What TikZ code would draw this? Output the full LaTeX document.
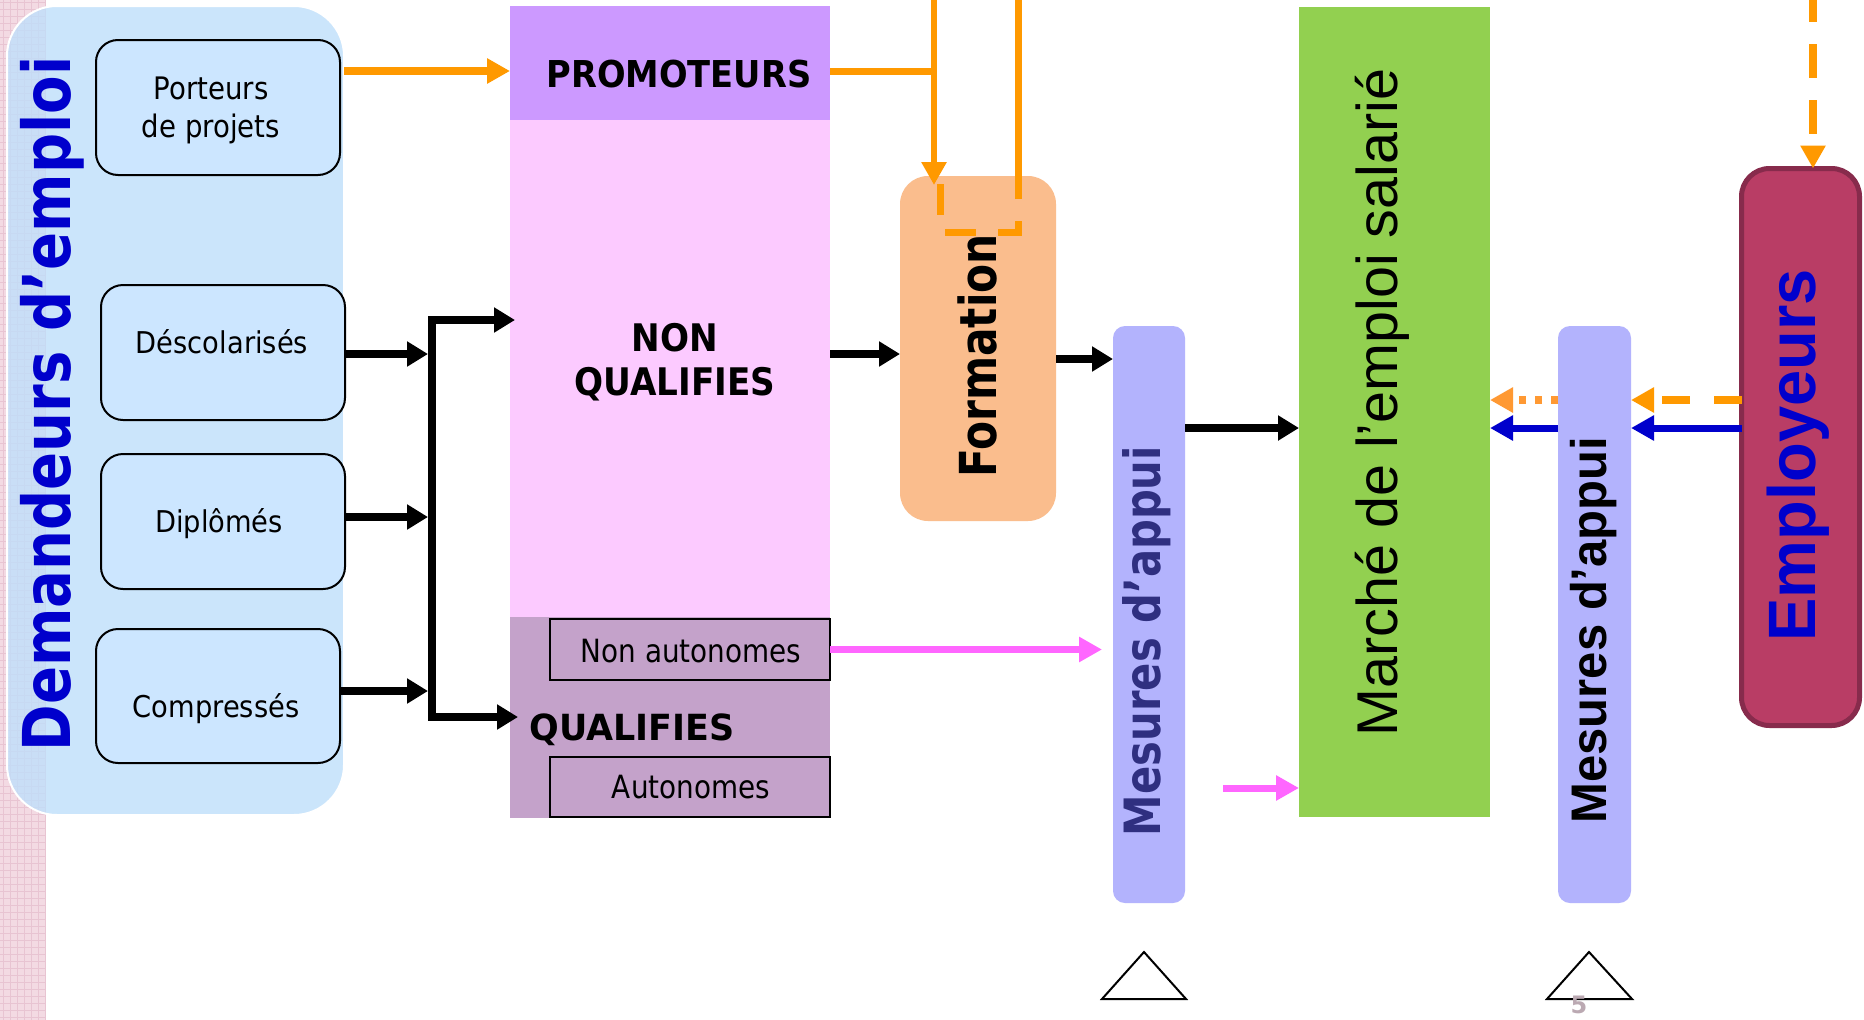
\documentclass[tikz,border=0pt]{standalone}
\usepackage{fontspec}
\usepackage{graphicx}
\setmainfont{DejaVu Sans}
\newfontfamily\lib{Liberation Sans}
\usetikzlibrary{arrows.meta,calc}
\definecolor{demblue}{HTML}{BFDFFB}
\definecolor{boxblue}{HTML}{CCE6FF}
\definecolor{strippink}{HTML}{F3DAE3}
\definecolor{stripline}{HTML}{E8C4D2}
\definecolor{promo}{HTML}{CC99FF}
\definecolor{nqpink}{HTML}{FCCAFF}
\definecolor{qualc}{HTML}{C4A2CA}
\definecolor{formc}{HTML}{FABD8D}
\definecolor{mesc}{HTML}{B3B3FD}
\definecolor{marchec}{HTML}{92D050}
\definecolor{empfill}{HTML}{B93D65}
\definecolor{empdraw}{HTML}{872B4C}
\definecolor{tblue}{HTML}{0000CC}
\definecolor{navy}{HTML}{2F2F80}
\definecolor{orng}{HTML}{FF9900}
\definecolor{lorng}{HTML}{FF9933}
\definecolor{magc}{HTML}{FF66FF}
\definecolor{pgray}{HTML}{BBA9B2}
\newcommand{\hsc}[2]{\scalebox{#1}[1]{#2}}
\begin{document}
\begin{tikzpicture}[x=1pt,y=-1pt,
  rbox/.style={draw=black, line width=2pt, rounded corners=22pt, fill=boxblue, minimum width=244pt, minimum height=135pt, inner sep=0pt, outer sep=0pt},
  flat/.style={inner sep=0pt, outer sep=0pt},
  txt/.style={inner sep=0pt, outer sep=0pt, anchor=base},
  vt/.style={inner sep=0pt, outer sep=0pt, anchor=base, rotate=90},
  blk/.style={line width=8pt, black, -{Triangle[length=21pt,width=24pt]}},
  ora/.style={line width=7pt, orng, -{Triangle[length=23pt,width=24pt]}},
  mag/.style={line width=7pt, magc, -{Triangle[length=23pt,width=24pt]}},
  blu/.style={line width=7pt, tblue, -{Triangle[length=23pt,width=24pt]}},
  tri/.style={draw=black, line width=2pt, fill=white, line join=miter}
]
\useasboundingbox (0,0) rectangle (1864,1020);
\fill[white] (0,0) rectangle (1864,1020);
% left decorative strip
\fill[strippink] (0,0) rectangle (46,1020);
\foreach \i in {2,9,...,1020} \draw[stripline, line width=0.8pt] (0,\i) -- (46,\i);
\foreach \j in {3,10,...,45} \draw[stripline, line width=0.8pt] (\j,0) -- (\j,1020);

% Demandeurs d'emploi
\node[flat, draw=white, line width=2pt, fill=demblue, fill opacity=0.8, rounded corners=50pt, minimum width=337pt, minimum height=809pt] (dem) at (175.5,410.5) {};
\node[vt, font=\bfseries\fontsize{66}{79}\selectfont, text=tblue] (demT) at (70,404) {\hsc{0.85}{Demandeurs d’emploi}};

\node[rbox] (port) at (218,107.5) {};
\node[txt, font=\fontsize{31}{38}\selectfont] (portT) at (211,99) {\hsc{0.89}{\begin{tabular}[t]{@{}c@{}}Porteurs\\de projets\end{tabular}}};
\node[rbox] (desc) at (223,352.5) {};
\node[txt, font=\fontsize{30}{36}\selectfont] (descT) at (222,353) {\hsc{0.91}{Déscolarisés}};
\node[rbox] (dipl) at (223,521.5) {};
\node[txt, font=\fontsize{30}{36}\selectfont] (diplT) at (219,532) {\hsc{0.91}{Diplômés}};
\node[rbox, minimum height=134pt] (comp) at (218,696) {};
\node[txt, font=\fontsize{30}{36}\selectfont] (compT) at (216,717.5) {\hsc{0.91}{Compressés}};

% central column
\node[flat, fill=promo, minimum width=320pt, minimum height=114pt] (promo) at (670,63) {};
\node[txt, font=\bfseries\fontsize{37}{44}\selectfont] (promoT) at (679,87.5) {\hsc{0.91}{PROMOTEURS}};
\node[flat, fill=nqpink, minimum width=320pt, minimum height=497pt] (nq) at (670,368.5) {};
\node[txt, font=\bfseries\fontsize{38}{44}\selectfont] (nqT) at (675,351) {\hsc{0.9}{\begin{tabular}[t]{@{}c@{}}NON\\QUALIFIES\end{tabular}}};
\node[flat, fill=qualc, minimum width=320pt, minimum height=201pt] (qual) at (670,717.5) {};
\node[flat, draw=black, line width=2pt, fill=qualc, minimum width=280pt, minimum height=61pt] (nonaut) at (690,649.5) {};
\node[txt, font=\fontsize{32}{38}\selectfont] (nonautT) at (691,662) {\hsc{0.87}{Non autonomes}};
\node[flat, draw=black, line width=2pt, fill=qualc, minimum width=280pt, minimum height=60pt] (aut) at (690,787) {};
\node[txt, font=\fontsize{32}{38}\selectfont] (autT) at (691,798) {\hsc{0.87}{Autonomes}};
\node[txt, font=\bfseries\fontsize{36}{44}\selectfont] (qualT) at (632,740) {\hsc{0.97}{QUALIFIES}};

% Formation
\node[flat, fill=formc, rounded corners=28pt, minimum width=156pt, minimum height=345pt] (form) at (978,348.5) {};
\node[vt, font=\bfseries\fontsize{51}{60}\selectfont] (formT) at (996,356) {\hsc{0.83}{Formation}};

% Mesures d'appui 1
\node[flat, fill=mesc, rounded corners=12pt, minimum width=72pt, minimum height=577pt] (mes1) at (1149,614.5) {};
\node[vt, font=\bfseries\fontsize{50}{60}\selectfont, text=navy] (mes1T) at (1160,641) {\hsc{0.834}{Mesures d’appui}};

% Marche
\node[flat, fill=marchec, minimum width=191pt, minimum height=810pt] (marche) at (1394.5,412) {};
\node[vt, font=\lib\fontsize{57.5}{68}\selectfont] (marcheT) at (1397,402.5) {Marché de l’emploi salarié};

% Mesures d'appui 2
\node[flat, fill=mesc, rounded corners=12pt, minimum width=73pt, minimum height=577pt] (mes2) at (1594.5,614.5) {};
\node[vt, font=\lib\bfseries\fontsize{50}{60}\selectfont] (mes2T) at (1606,630) {\hsc{0.98}{Mesures d’appui}};

% Employeurs
\node[flat, draw=empdraw, line width=5pt, fill=empfill, rounded corners=28pt, minimum width=118pt, minimum height=557pt] (emp) at (1800.5,447) {};
\node[vt, font=\lib\bfseries\fontsize{67}{80}\selectfont, text=tblue] (empT) at (1815,455.5) {\hsc{0.97}{Employeurs}};

% triangles and page number
\draw[tri] (1102,999) -- (1144,952) -- (1186,999) -- cycle;
\draw[tri] (1547,999) -- (1589,952) -- (1632,999) -- cycle;
\node[txt, font=\bfseries\fontsize{24}{28}\selectfont, text=pgray] (pg) at (1579,1013) {5};

% connectors: left side
\draw[ora, line width=8pt] (dem.east |- 0,71) -- (promo.west |- 0,71);
\draw[blk] ([yshift=-1.5pt]desc.east) -- (428,354);
\draw[blk] ([yshift=4.5pt]dipl.east) -- (428,517);
\draw[blk] ([yshift=5pt]comp.east) -- (428,691);
\coordinate (busT) at (432,320);
\coordinate (busB) at (432,717);
\draw[line width=8pt, black, line join=miter, {Triangle[length=21pt,width=24pt]}-{Triangle[length=21pt,width=24pt]}] ([xshift=5pt]nq.west |- busT) -- (busT) -- (busB) -- ([xshift=8pt]qual.west |- busB);

% central connectors
\draw[blk] (nq.east |- 0,354) -- (form.west |- 0,354);
\draw[blk] (form.east |- 0,359) -- (mes1.west |- 0,359);
\draw[blk] (mes1.east |- 0,428) -- (marche.west |- 0,428);
\draw[mag] (nonaut.east) -- ([xshift=-11pt]mes1.west |- nonaut.east);
\coordinate (pk) at (1223,788);
\draw[mag] (pk) -- (marche.west |- pk);

% orange lines at top
\coordinate (oa) at (934,0);
\coordinate (ob) at (1018,0);
\draw[orng, line width=7pt] (promo.east |- 0,71) -- (oa |- 0,71);
\draw[ora, line width=6.5pt] (oa) -- ([yshift=-9pt]form.north -| oa);
\draw[orng, line width=7pt] (ob) -- (1018,183);
\draw[orng, line width=7pt, dash pattern=on 31pt off 22pt] (940,184) -- (940,232) -- (1018,232) -- (1018,183);

% right side connectors
\coordinate (oc) at (1813,0);
\draw[ora, line width=8pt, dash pattern=on 34pt off 22pt, dash phase=12pt] (oc) -- (emp.north -| oc);
\draw[ora, line width=8pt, dash pattern=on 28pt off 24pt] (emp.west |- 0,400) -- (mes2.east |- 0,400);
\draw[blu] (emp.west |- 0,428) -- (mes2.east |- 0,428);
\draw[ora, lorng, line width=8pt, dash pattern=on 7pt off 9pt] (mes2.west |- 0,400) -- (marche.east |- 0,400);
\draw[blu] (mes2.west |- 0,428) -- (marche.east |- 0,428);
\end{tikzpicture}
\end{document}
